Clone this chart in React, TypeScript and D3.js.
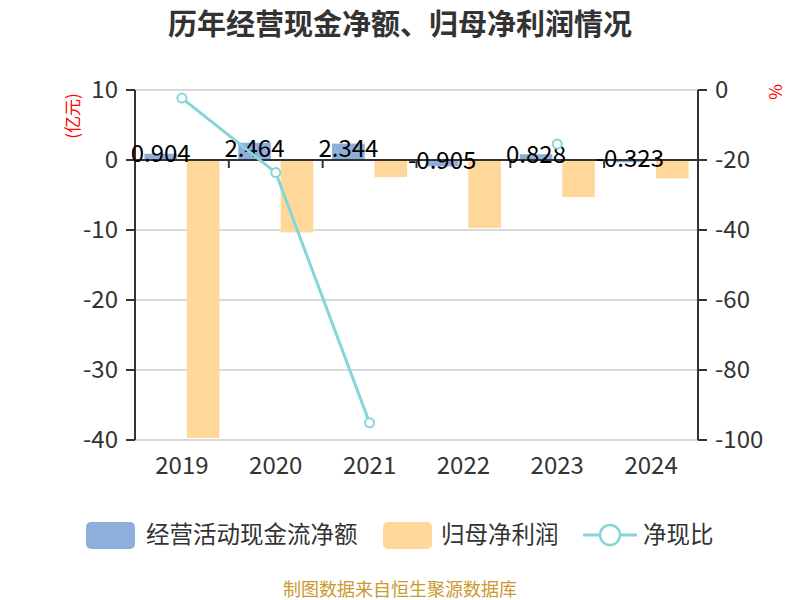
import React from "react";
import * as d3 from "d3";

const years = ["2019", "2020", "2021", "2022", "2023", "2024"];
const cashFlow = [0.904, 2.464, 2.344, -0.905, 0.828, -0.323];
const netProfit = [-39.7, -10.35, -2.45, -9.7, -5.3, -2.62];
const cashRatio: (number | null)[] = [-2.3, -23.6, -95.1, null, -15.4, null];
const leftTicks = [10, 0, -10, -20, -30, -40];
const rightTicks = [0, -20, -40, -60, -80, -100];

const FONT = '"Noto Sans CJK SC", "Noto Sans", sans-serif';
const BLUE = "#8eaedb";
const ORANGE = "#ffd899";
const TEAL = "#86d5d8";
const AXIS = "#333333";

export default function App() {
  const W = 800;
  const H = 600;
  const left = 135;
  const right = 698;
  const top = 90;
  const bottom = 440;

  const x = d3.scaleBand<string>().domain(years).range([left, right]).padding(0);
  const yL = d3.scaleLinear().domain([-40, 10]).range([bottom, top]);
  const yR = d3.scaleLinear().domain([-100, 0]).range([bottom, top]);

  const band = x.bandwidth();
  const bw = (band * 0.8) / 2.3;
  const gap = bw * 0.3;
  const side = (band - 2 * bw - gap) / 2;
  const y0 = yL(0);

  const line = d3
    .line<number | null>()
    .defined((d) => d !== null)
    .x((_, i) => (x(years[i]) as number) + band / 2)
    .y((d) => yR(d as number));

  return (
    <>
      <style>{`body{margin:0}`}</style>
      <svg width={W} height={H} style={{ display: "block", fontFamily: FONT }}>
        <rect x={0} y={0} width={W} height={H} fill="#ffffff" />
        <text x={400} y={35} textAnchor="middle" fontSize={29} fontWeight="bold" fill="#333">
          历年经营现金净额、归母净利润情况
        </text>

        {/* grid lines */}
        {leftTicks.map((t) => (
          <line key={"g" + t} x1={left} x2={right} y1={yL(t)} y2={yL(t)} stroke="#cccccc" strokeWidth={1.5} />
        ))}

        {/* bars */}
        {years.map((yr, i) => {
          const bx = (x(yr) as number) + side;
          const c = cashFlow[i];
          const p = netProfit[i];
          return (
            <g key={"b" + yr}>
              <rect x={bx} y={Math.min(yL(c), y0)} width={bw} height={Math.abs(yL(c) - y0)} fill={BLUE} />
              <rect x={bx + bw + gap} y={Math.min(yL(p), y0)} width={bw} height={Math.abs(yL(p) - y0)} fill={ORANGE} />
            </g>
          );
        })}

        {/* x axis on zero */}
        <line x1={left} x2={right} y1={y0} y2={y0} stroke={AXIS} strokeWidth={2} />
        {years.slice(1).map((yr) => (
          <line key={"xt" + yr} x1={x(yr) as number} x2={x(yr) as number} y1={y0} y2={y0 + 8} stroke={AXIS} strokeWidth={2} />
        ))}
        {years.map((yr) => (
          <text key={"xl" + yr} x={(x(yr) as number) + band / 2} y={474} textAnchor="middle" fontSize={24} fill="#333">
            {yr}
          </text>
        ))}

        {/* left axis */}
        <line x1={left} x2={left} y1={top} y2={bottom} stroke={AXIS} strokeWidth={2} />
        {leftTicks.map((t) => (
          <g key={"lt" + t}>
            <line x1={left - 9} x2={left} y1={yL(t)} y2={yL(t)} stroke={AXIS} strokeWidth={2} />
            <text x={118} y={yL(t)} dy="0.35em" textAnchor="end" fontSize={24} fill="#333">
              {t}
            </text>
          </g>
        ))}
        <text transform={`translate(79,116) rotate(-90)`} textAnchor="middle" fontSize={17} fill="#ff0000">
          (亿元)
        </text>

        {/* right axis */}
        <line x1={right} x2={right} y1={top} y2={bottom} stroke={AXIS} strokeWidth={2} />
        {rightTicks.map((t) => (
          <g key={"rt" + t}>
            <line x1={right} x2={right + 9} y1={yR(t)} y2={yR(t)} stroke={AXIS} strokeWidth={2} />
            <text x={715} y={yR(t)} dy="0.35em" textAnchor="start" fontSize={24} fill="#333">
              {t}
            </text>
          </g>
        ))}
        <text transform={`translate(782,92) rotate(-90)`} textAnchor="middle" fontSize={17} fill="#ff0000">
          %
        </text>

        {/* bar labels */}
        {years.map((yr, i) => {
          const c = cashFlow[i];
          const cx = (x(yr) as number) + side + bw / 2;
          const cy = (yL(c) + y0) / 2 - 3;
          return (
            <text key={"bl" + yr} x={cx} y={cy} dy="0.35em" textAnchor="middle" fontSize={24} fill="#000">
              {c}
            </text>
          );
        })}

        {/* ratio line */}
        <path d={line(cashRatio) || ""} fill="none" stroke={TEAL} strokeWidth={3} />
        {cashRatio.map((v, i) =>
          v === null ? null : (
            <circle
              key={"pt" + i}
              cx={(x(years[i]) as number) + band / 2}
              cy={yR(v)}
              r={4.5}
              fill="#fff"
              stroke={TEAL}
              strokeWidth={2}
            />
          )
        )}

        {/* legend */}
        <rect x={86} y={522} width={49} height={27} rx={5} fill={BLUE} />
        <text x={146} y={535} dy="0.35em" fontSize={23.5} fill="#333">
          经营活动现金流净额
        </text>
        <rect x={383} y={522} width={49} height={27} rx={5} fill={ORANGE} />
        <text x={441} y={535} dy="0.35em" fontSize={23.5} fill="#333">
          归母净利润
        </text>
        <line x1={583} x2={637} y1={535} y2={535} stroke={TEAL} strokeWidth={3} />
        <circle cx={610} cy={535} r={10} fill="#fff" stroke={TEAL} strokeWidth={2.5} />
        <text x={643} y={535} dy="0.35em" fontSize={23.5} fill="#333">
          净现比
        </text>

        <text x={400} y={596} textAnchor="middle" fontSize={18} fill="#c99a2e">
          制图数据来自恒生聚源数据库
        </text>
      </svg>
    </>
  );
}
